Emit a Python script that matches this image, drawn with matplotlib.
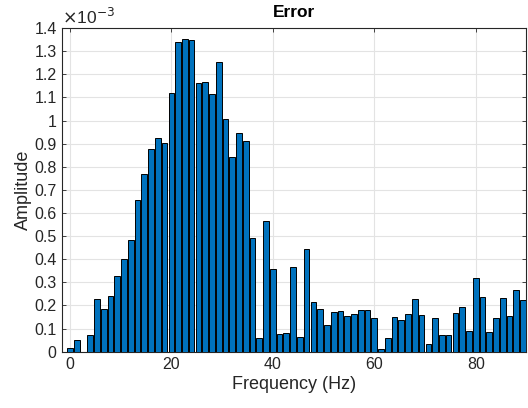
import numpy as np
import matplotlib
matplotlib.use('Agg')
import matplotlib.pyplot as plt
from matplotlib.ticker import FuncFormatter, MultipleLocator

plt.rcParams['font.family'] = ['Liberation Sans', 'DejaVu Sans']

# frequency resolution of the spectrum (Hz)
DF = 4.0 / 3.0

# amplitude of each bin, in units of 1e-3
amp_e3 = [
    0.017, 0.049, 0.000, 0.071, 0.227, 0.183, 0.242, 0.328, 0.401, 0.483,
    0.658, 0.771, 0.876, 0.924, 0.902, 1.120, 1.339, 1.355, 1.348, 1.162,
    1.166, 1.117, 1.253, 1.006, 0.843, 0.945, 0.911, 0.491, 0.058, 0.566,
    0.358, 0.078, 0.082, 0.368, 0.063, 0.443, 0.214, 0.183, 0.114, 0.173,
    0.177, 0.154, 0.162, 0.179, 0.179, 0.144, 0.010, 0.061, 0.149, 0.137,
    0.163, 0.227, 0.160, 0.032, 0.144, 0.072, 0.071, 0.166, 0.193, 0.091,
    0.317, 0.238, 0.085, 0.146, 0.231, 0.154, 0.266, 0.224,
]
amp = np.array(amp_e3) * 1e-3
freq = np.arange(len(amp)) * DF

fig = plt.figure(figsize=(5.28, 4.08), dpi=100)
ax = fig.add_axes([0.118, 0.138, 0.879, 0.793])

ax.bar(freq, amp, width=0.84 * DF, color='#0072BD', edgecolor='black',
       linewidth=0.7, zorder=3)

ax.set_xlim(-1.5, 90)
ax.set_ylim(0, 1.4e-3)
ax.xaxis.set_major_locator(MultipleLocator(20))
ax.yaxis.set_major_locator(MultipleLocator(0.1e-3))
ax.yaxis.set_major_formatter(FuncFormatter(lambda v, p: f'{v / 1e-3:.10g}'))

ax.grid(True, color='#e3e3e3', lw=0.8, zorder=0)
ax.set_axisbelow(True)
for s in ax.spines.values():
    s.set_color('#262626')
    s.set_linewidth(0.8)
ax.tick_params(direction='in', top=True, right=True, length=3,
               colors='#262626', labelsize=11.5, width=0.6, pad=4)

ax.set_xlabel('Frequency (Hz)', fontsize=13, color='#262626', labelpad=3)
ax.set_ylabel('Amplitude', fontsize=13, color='#262626', labelpad=2)
ax.set_title('Error', fontsize=12.5, fontweight='bold', pad=8)
ax.text(0.0, 1.003, r'$\times$10$^{-3}$', transform=ax.transAxes,
        fontsize=12.5, color='#262626', ha='left', va='bottom')

plt.savefig('out.png', dpi=100)
